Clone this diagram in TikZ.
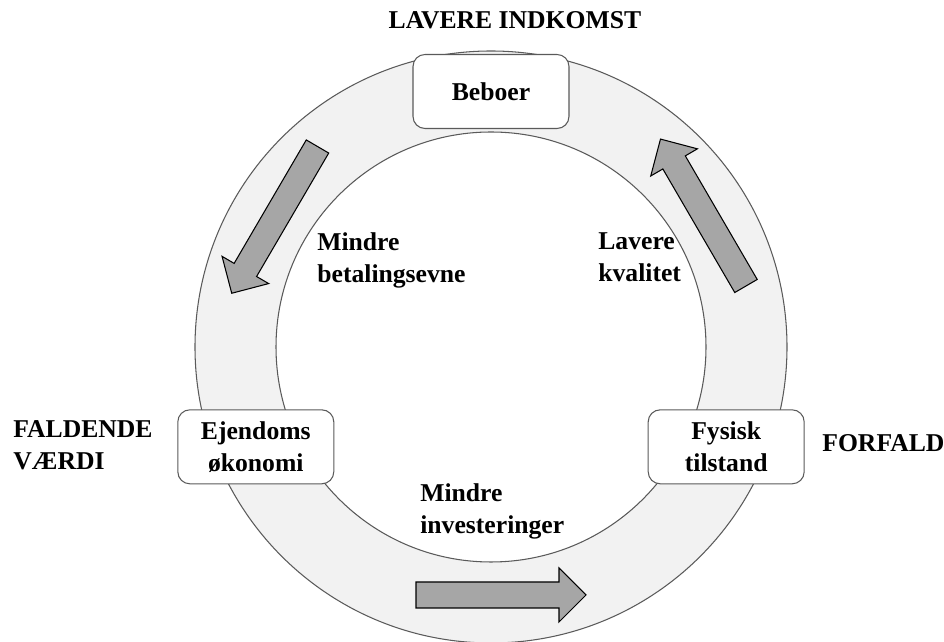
\documentclass[tikz,border=0pt]{standalone}
\usepackage{fontspec}
\setmainfont{Liberation Serif}
\usetikzlibrary{calc}
\definecolor{ringgray}{HTML}{F2F2F2}
\definecolor{arrowgray}{HTML}{A6A6A6}
\definecolor{edgegray}{HTML}{5A5A5A}
\tikzset{
  txt/.style={font=\fontsize{14.6pt}{18.2pt}\selectfont\bfseries},
  box/.style={txt, draw=edgegray, fill=white, rounded corners=0.24cm, minimum width=3.12cm, minimum height=1.48cm, align=center, line width=0.6pt},
  lbl/.style={txt, inner sep=0pt, align=left},
  blockarrow/.pic={\draw[fill=arrowgray, line width=0.6pt] (0,-13) -- (143,-13) -- (143,-27) -- (170,0) -- (143,27) -- (143,13) -- (0,13) -- cycle;}
}

\begin{document}
\begin{tikzpicture}[x=0.02cm, y=0.02cm]
    \useasboundingbox (0,0) rectangle (944,642);
    \coordinate (c) at (491,295);
    \fill[ringgray, even odd rule] (c) circle[radius=296] (c) circle[radius=215];
    \draw[edgegray, line width=0.6pt] (c) circle[radius=296] (c) circle[radius=215];

    \pic[rotate=239.7] at (317.5,495.5) {blockarrow};
    \pic[rotate=120.2] at (746,356) {blockarrow};
    \pic at (416,47) {blockarrow};

    \node[box] (beboer) at ($(c)+(90:255.5)$) {Beboer};
    \node[box] (ejendom) at ($(c)+(203:255.5)$) {Ejendoms\\økonomi};
    \node[box] (fysisk) at ($(c)+(337:255.5)$) {Fysisk\\tilstand};

    \node[lbl] (indkomst) at (515,622) {LAVERE INDKOMST};
    \node[lbl, anchor=west] (forfald) at (822,199) {FORFALD};
    \node[lbl, anchor=north west] (vaerdi) at (13,222) {FALDENDE\\VÆRDI};
    \node[lbl, anchor=north west] (betaling) at (317,410) {Mindre\\betalingsevne};
    \node[lbl, anchor=north west] (kvalitet) at (598,410) {Lavere\\kvalitet};
    \node[lbl, anchor=north west] (invest) at (420,159) {Mindre\\investeringer};
\end{tikzpicture}
\end{document}
